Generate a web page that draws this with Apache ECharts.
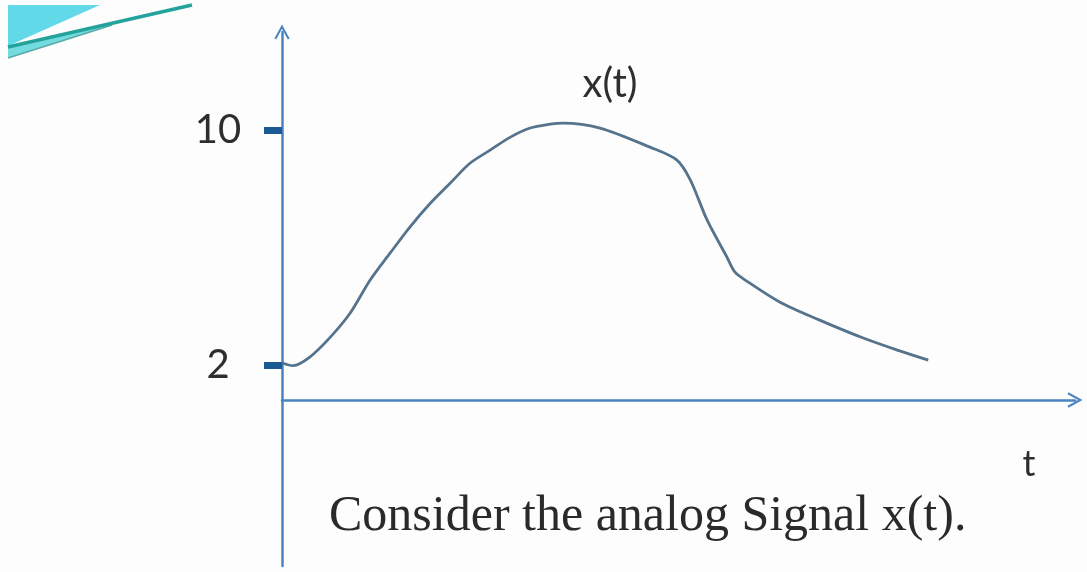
<!DOCTYPE html>
<html>
<head>
<meta charset="utf-8">
<script src="https://cdn.jsdelivr.net/npm/echarts@6/dist/echarts.min.js"></script>
<style>
  html, body { margin: 0; padding: 0; background: #fdfdfd; }
  #chart { width: 1087px; height: 572px; }
</style>
</head>
<body>
<div id="chart"></div>
<script>
  // signal x(t) (t in arbitrary units, x in the axis' own labels)
  var tValues = [0, 0.14, 0.35, 0.61, 0.86, 1.11, 1.36, 1.61, 1.87, 2.12, 2.37, 2.62, 2.88, 3.13, 3.38, 3.54, 4.01, 4.64, 4.98, 5.15, 5.36, 5.61, 5.71, 5.86, 6.28, 6.78, 7.33, 7.76, 8.15]
  var xValues = [2.07, 1.98, 2.27, 2.95, 3.77, 4.89, 5.8, 6.69, 7.51, 8.19, 8.87, 9.31, 9.76, 10.07, 10.2, 10.24, 10.07, 9.42, 8.98, 8.3, 6.94, 5.68, 5.17, 4.86, 4.14, 3.53, 2.92, 2.51, 2.17]
  var yTicks = [2, 10]

  var axisBlue = '#4a84c0'
  //空心箭头
  var arrowPath = 'path://M0,11 L6,0 L12,11 L10.6,11.8 L6,3.4 L1.4,11.8 Z'

  var points = []
  for (var i = 0; i < tValues.length; i++) {
    points.push([tValues[i], xValues[i]])
  }

  var chart = echarts.init(document.getElementById('chart'))
  chart.setOption({
    backgroundColor: '#fdfdfd',
    animation: false,
    grid: [
      { left: 282, top: 32, right: 12, bottom: 172 },
      { left: 282, top: 400, right: 12, bottom: 6 }
    ],
    xAxis: [
      {
        type: 'value', gridIndex: 0, min: 0, max: 10,
        axisLine: { onZero: false, symbol: ['none', arrowPath], symbolSize: [16, 15], lineStyle: { color: axisBlue, width: 2.5 } },
        axisTick: { show: false }, axisLabel: { show: false }, splitLine: { show: false }
      },
      { type: 'value', gridIndex: 1, show: false }
    ],
    yAxis: [
      {
        type: 'value', gridIndex: 0, min: 0.81, max: 13.34,
        axisLine: { show: true, onZero: false, symbol: ['none', arrowPath], symbolSize: [16, 15], lineStyle: { color: axisBlue, width: 2.5 } },
        axisTick: { show: true, customValues: yTicks, length: 18, lineStyle: { color: '#1c5a96', width: 7 } },
        axisLabel: { customValues: yTicks, align: 'center', margin: 64, fontSize: 40, color: '#2e2e2e', fontFamily: 'Lato' },
        splitLine: { show: false }
      },
      {
        type: 'value', gridIndex: 1,
        axisLine: { show: true, onZero: false, lineStyle: { color: axisBlue, width: 2.5 } },
        axisTick: { show: false }, axisLabel: { show: false }, splitLine: { show: false }
      }
    ],
    graphic: [
      // 左上角装饰条
      { type: 'polygon', shape: { points: [[8, 5], [100, 5], [8, 46]] }, style: { fill: '#62d9e8' } },
      { type: 'polygon', shape: { points: [[8, 48], [8, 58], [112, 25]] }, style: { fill: '#74dcdf' } },
      { type: 'line', shape: { x1: 8, y1: 58, x2: 112, y2: 25 }, style: { stroke: '#5aa8aa', lineWidth: 1.5 } },
      { type: 'line', shape: { x1: 8, y1: 47, x2: 192, y2: 5 }, style: { stroke: '#23a39c', lineWidth: 3.5 } },
      { type: 'text', x: 610, y: 84, style: { text: 'x(t)', fontSize: 40, fontFamily: 'Lato', fill: '#2e2e2e', textAlign: 'center', textVerticalAlign: 'middle' } },
      { type: 'text', x: 1029, y: 464, style: { text: 't', fontSize: 36, fontFamily: 'Lato', fill: '#2e2e2e', textAlign: 'center', textVerticalAlign: 'middle' } },
      { type: 'text', x: 329, y: 517, style: { text: 'Consider the analog Signal x(t).', fontSize: 50, fontFamily: 'Liberation Serif', fill: '#2a2a2a', textAlign: 'left', textVerticalAlign: 'middle' } }
    ],
    series: [
      {
        type: 'line',
        xAxisIndex: 0,
        yAxisIndex: 0,
        data: points,
        smooth: 0.3,
        showSymbol: false,
        lineStyle: { color: '#56738d', width: 2.8 }
      }
    ]
  })
</script>
</body>
</html>
